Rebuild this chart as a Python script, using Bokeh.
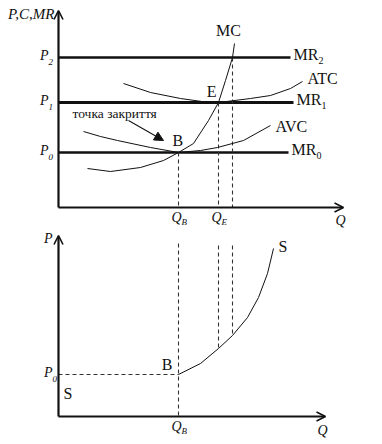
from bokeh.plotting import figure
from bokeh.layouts import column
from bokeh.models import Arrow, OpenHead, NormalHead, Range1d
from bokeh.embed import file_html
from bokeh.resources import INLINE
from bokeh.core.properties import value

# ---------------- data: top panel (firm's cost curves) ----------------
q_b = 6.0          # shutdown output Q_B
q_e = 8.0          # break-even output Q_E
q_2 = 8.7          # output at price P2
price_levels = [5.5, 10.5, 15.0]      # P0, P1, P2
price_subs = ["0", "1", "2"]
mr_end = [11.5, 11.75, 11.6]
mr_widths = [2.4, 3.2, 2.4]

mc_q = [1.45, 2.6, 4.1, 5.25, 6.0, 6.75, 7.5, 8.0, 8.35, 8.7, 8.8]
mc_p = [3.9, 3.6, 4.0, 4.7, 5.5, 6.4, 8.7, 10.5, 12.7, 15.0, 16.4]

avc_q = [1.25, 2.1, 2.95, 4.6, 6.0, 7.1, 7.95, 9.25, 10.6]
avc_p = [7.6, 7.1, 6.7, 6.0, 5.5, 5.7, 6.0, 6.7, 8.2]

atc_q = [3.25, 4.6, 6.1, 7.35, 8.0, 9.6, 10.6, 11.6, 12.2]
atc_p = [12.4, 11.5, 10.9, 10.55, 10.5, 10.9, 11.2, 11.9, 12.6]

top_q_max = 14.25
top_p_max = 19.7
note_text = "точка закриття"
note_pos = (0.7, 9.4)
note_arrow = (3.5, 8.7, 5.25, 6.7)

# ---------------- data: bottom panel (supply curve) ----------------
s_q = [6.0, 7.1, 8.0, 8.7, 9.45, 10.0, 10.45, 10.75]
s_p = [4.2, 5.3, 6.8, 8.1, 9.9, 11.9, 14.3, 16.8]
bot_p0 = 4.2
bot_guides_top = [17.3, 17.1, 17.1]
bot_q_max = 13.35
bot_p_max = 18.1

FONT = value("Liberation Serif")
INK = "#111111"


def make_fig(h, y0, y1):
    p = figure(width=382, height=h, output_backend="svg", toolbar_location=None,
               x_range=Range1d(-2.9, 16.2), y_range=Range1d(y0, y1),
               min_border=0, outline_line_color=None)
    p.axis.visible = False
    p.grid.visible = False
    return p


def label(p, x, y, txt, size, dx=0, dy=0, align="left", baseline="middle", style="normal"):
    p.text(x=[x], y=[y], text=[txt], text_font=FONT, text_font_size=f"{size}px",
           text_font_style=style, text_align=align, text_baseline=baseline,
           x_offset=dx, y_offset=dy, text_color=INK)


def axes(p, qmax, pmax):
    p.add_layout(Arrow(end=OpenHead(size=9, line_width=1.6, line_color=INK),
                       x_start=0, y_start=0, x_end=0, y_end=pmax,
                       line_width=2.2, line_color=INK))
    p.add_layout(Arrow(end=OpenHead(size=9, line_width=1.6, line_color=INK),
                       x_start=0, y_start=0, x_end=qmax, y_end=0,
                       line_width=2.2, line_color=INK))


# ================= top figure =================
top = make_fig(228, -2.1, 20.7)
axes(top, top_q_max, top_p_max)

for lvl, end, w, sub in zip(price_levels, mr_end, mr_widths, price_subs):
    top.line([0, end], [lvl, lvl], line_width=w, line_color=INK)
    label(top, end, lvl, "MR", 16, dx=3, dy=-3)
    label(top, end, lvl, sub, 10, dx=28, dy=3)
    label(top, 0, lvl, "P", 14, dx=-10, dy=-2, align="right", style="italic")
    label(top, 0, lvl, sub, 9, dx=-10, dy=4, style="italic")

dash = dict(line_dash="4 3", line_width=1.1, line_color="#333333")
top.line([q_b, q_b], [price_levels[0], 0], **dash)
top.line([q_e, q_e], [price_levels[1], 0], **dash)
top.line([q_2, q_2], [price_levels[2], 0], **dash)

top.line(mc_q, mc_p, line_width=1.0, line_color=INK)
top.line(avc_q, avc_p, line_width=1.0, line_color=INK)
top.line(atc_q, atc_p, line_width=1.0, line_color=INK)

label(top, mc_q[-1], mc_p[-1], "MC", 16, dx=-6, dy=-5, align="center", baseline="bottom")
label(top, atc_q[-1], atc_p[-1], "ATC", 16, dx=5, dy=-3)
label(top, avc_q[-1], avc_p[-1], "AVC", 16, dx=5, dy=1)
label(top, q_e, price_levels[1], "E", 16, dx=-2, dy=-3, align="right", baseline="bottom")
label(top, q_b, price_levels[0], "B", 16, dx=-6, dy=-4, baseline="bottom")

label(top, note_pos[0], note_pos[1], note_text, 13.5)
top.add_layout(Arrow(end=NormalHead(size=9, fill_color=INK, line_color=INK),
                     x_start=note_arrow[0], y_start=note_arrow[1],
                     x_end=note_arrow[2], y_end=note_arrow[3],
                     line_width=1.1, line_color=INK))

label(top, 0, top_p_max, "P,C,MR", 15, dx=-4, dy=-5, align="right", baseline="top", style="italic")
label(top, q_b, 0, "Q", 14, dx=-2, dy=2, align="center", baseline="top", style="italic")
label(top, q_b, 0, "B", 9, dx=3, dy=9, baseline="top", style="italic")
label(top, q_e, 0, "Q", 14, dx=-2, dy=2, align="center", baseline="top", style="italic")
label(top, q_e, 0, "E", 9, dx=3, dy=9, baseline="top", style="italic")
label(top, top_q_max, 0, "Q", 14, dx=-3, dy=5, align="center", baseline="top", style="italic")

# ================= bottom figure =================
bot = make_fig(216, -2.8, 18.8)
axes(bot, bot_q_max, bot_p_max)

bot.line([0, q_b], [bot_p0, bot_p0], **dash)
bot.line([q_b, q_b], [bot_guides_top[0], 0], **dash)
bot.line([q_e, q_e], [bot_guides_top[1], s_p[2]], **dash)
bot.line([q_2, q_2], [bot_guides_top[2], s_p[3]], **dash)
bot.line(s_q, s_p, line_width=1.0, line_color=INK)

label(bot, s_q[-1], s_p[-1], "S", 16, dx=5, dy=-2)
label(bot, 0, bot_p0, "S", 16, dx=5, dy=19)
label(bot, q_b, bot_p0, "B", 16, dx=-6, dy=-2, align="right", baseline="bottom")
label(bot, 0, bot_p0, "P", 14, dx=-6, dy=-2, align="right", style="italic")
label(bot, 0, bot_p0, "0", 9, dx=-6, dy=4, style="italic")
label(bot, 0, bot_p_max, "P", 14, dx=-6, dy=3, align="right", style="italic")
label(bot, q_b, 0, "Q", 14, dx=-2, dy=2, align="center", baseline="top", style="italic")
label(bot, q_b, 0, "B", 9, dx=3, dy=9, baseline="top", style="italic")
label(bot, bot_q_max, 0, "Q", 14, dx=-3, dy=6, align="center", baseline="top", style="italic")

layout = column(top, bot, spacing=0)
open("out.html", "w").write(file_html(layout, INLINE))
